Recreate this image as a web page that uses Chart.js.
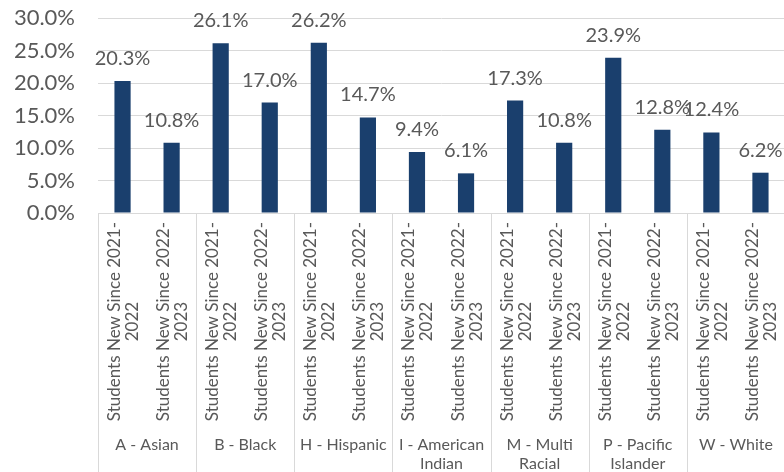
<!DOCTYPE html>
<html>
<head>
<meta charset="utf-8">
<script src="https://cdn.jsdelivr.net/npm/chart.js@4/dist/chart.umd.min.js"></script>
<style>
  html, body { margin: 0; padding: 0; overflow: hidden; background: #fff; }
  #wrap { position: absolute; left: 0; top: 0; width: 792px; height: 480px; }
</style>
</head>
<body>
<div id="wrap"><canvas id="chart" width="792" height="480"></canvas></div>
<script>
// groups (second level of the x axis)
const groups = ['A - Asian', 'B - Black', 'H - Hispanic', ['I - American', 'Indian'],
                ['M - Multi', 'Racial'], ['P - Pacific', 'Islander'], 'W - White'];
// sub categories inside every group
const periods = [['Students New Since 2021-', '2022'], ['Students New Since 2022-', '2023']];
// percent of students, two values per group
const values = [20.3, 10.8, 26.1, 17.0, 26.2, 14.7, 9.4, 6.1, 17.3, 10.8, 23.9, 12.8, 12.4, 6.2];
const yTicks = [0, 5, 10, 15, 20, 25, 30];

const labels = [];
groups.forEach(() => periods.forEach(p => labels.push(p)));

const textColor = '#595959';
const lineColor = '#d9d9d9';
const fontName = 'Lato, "DejaVu Sans", sans-serif';

// value labels above the bars
const valueLabels = {
    id: 'valueLabels',
    afterDatasetsDraw(chart) {
        const ctx = chart.ctx;
        const meta = chart.getDatasetMeta(0);
        ctx.save();
        ctx.font = '20px ' + fontName;
        ctx.fillStyle = textColor;
        ctx.textAlign = 'center';
        ctx.textBaseline = 'alphabetic';
        meta.data.forEach((bar, i) => {
            ctx.fillText(values[i].toFixed(1) + '%', bar.x, bar.y - 16);
        });
        ctx.restore();
    }
};

// rotated sub labels (centered lines) and group separators
const groupAxis = {
    id: 'groupAxis',
    afterDraw(chart) {
        const ctx = chart.ctx;
        const area = chart.chartArea;
        const xs = chart.scales.x;
        ctx.save();
        // separators
        ctx.strokeStyle = lineColor;
        ctx.lineWidth = 1;
        const groupW = area.width / groups.length;
        for (let i = 0; i <= groups.length; i++) {
            const x = Math.round(area.left + i * groupW) + 0.5;
            ctx.beginPath();
            ctx.moveTo(x, area.bottom);
            ctx.lineTo(x, chart.height);
            ctx.stroke();
        }
        // rotated labels
        ctx.font = '17px ' + fontName;
        ctx.fillStyle = textColor;
        ctx.textAlign = 'center';
        ctx.textBaseline = 'middle';
        labels.forEach((lines, i) => {
            const x = xs.getPixelForTick(i);
            const w = Math.max(...lines.map(l => ctx.measureText(l).width));
            ctx.save();
            ctx.translate(x, area.bottom + 9 + w / 2);
            ctx.rotate(-Math.PI / 2);
            ctx.fillText(lines[0], 0, -8);
            ctx.fillText(lines[1], 0, 10);
            ctx.restore();
        });
        ctx.restore();
    }
};

new Chart(document.getElementById('chart'), {
    type: 'bar',
    data: {
        labels: labels,
        datasets: [{
            data: values,
            backgroundColor: '#1a3f6d',
            barPercentage: 0.33,
            categoryPercentage: 1
        }]
    },
    options: {
        responsive: false,
        animation: false,
        layout: { padding: { top: 18, right: 7, left: 0, bottom: 0 } },
        plugins: { legend: { display: false }, tooltip: { enabled: false } },
        scales: {
            y: {
                min: 0,
                max: 30,
                afterBuildTicks: s => { s.ticks = yTicks.map(v => ({ value: v })); },
                afterFit: s => { s.width = 98; s.paddingTop = 0; s.paddingBottom = 0; },
                ticks: {
                    color: textColor,
                    font: { family: fontName, size: 22 },
                    padding: 23,
                    callback: v => v.toFixed(1) + '%'
                },
                grid: { color: lineColor, drawTicks: false },
                border: { display: false }
            },
            x: {
                weight: 0,
                afterFit: s => { s.height = 219; s.paddingLeft = 0; s.paddingRight = 0; },
                ticks: { display: false },
                grid: { display: false },
                border: { color: lineColor }
            },
            x2: {
                type: 'category',
                position: 'bottom',
                weight: 1,
                labels: groups,
                afterFit: s => { s.height = 48; s.paddingLeft = 0; s.paddingRight = 0; },
                ticks: {
                    color: textColor,
                    font: { family: fontName, size: 16, lineHeight: 1.2 },
                    padding: 3,
                    maxRotation: 0,
                    autoSkip: false
                },
                grid: { display: false, drawTicks: false },
                border: { display: false }
            }
        }
    },
    plugins: [valueLabels, groupAxis]
});
</script>
</body>
</html>
